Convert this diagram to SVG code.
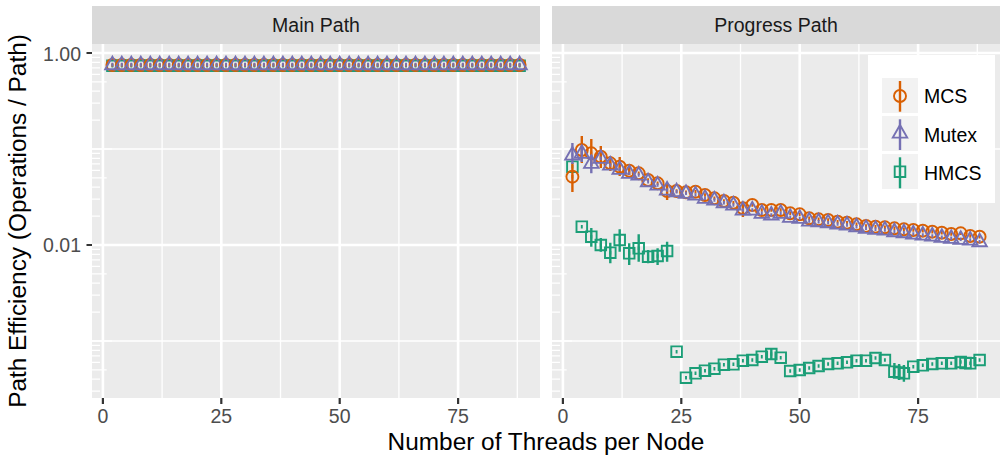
<svg xmlns="http://www.w3.org/2000/svg" xmlns:xlink="http://www.w3.org/1999/xlink" width="1000" height="459" viewBox="0 0 1000 459">
<style>
text{font-family:"Liberation Sans",Arial,sans-serif}
.tick{font-size:19.5px;fill:#4D4D4D}
.strip{font-size:19.5px;fill:#1A1A1A;text-anchor:middle}
.title{font-size:24.4px;fill:#000;text-anchor:middle}
.leg{font-size:19.5px;fill:#000}
.panel{fill:#EBEBEB}
.stripbg{fill:#D9D9D9}
.gmaj{stroke:#FFF;stroke-width:2.6;fill:none}
.gmin{stroke:#FFF;stroke-width:1.3;fill:none}
.lt{stroke:#FFF;stroke-width:1.3;fill:none}
.axt{stroke:#333;stroke-width:2.2;fill:none}
.mcs{stroke:#D95F02;fill:none;stroke-width:1.9}
.mtx{stroke:#7570B3;fill:none;stroke-width:1.9}
.hm{stroke:#1B9E77;fill:none;stroke-width:1.9}
.eb{stroke-width:2.4}
</style>
<defs>
<!-- point shapes: open circle, open triangle, open square, each with a short centre range line -->
<path id="o" d="M6,0A6,6 0 1 1 -6,0A6,6 0 1 1 6,0ZM0,-1.8V1.8"/>
<path id="t" d="M0,-8L7.2,4.6H-7.2ZM0,-1.8V1.8"/>
<path id="s" d="M-5.3,-5.3H5.3V5.3H-5.3ZM0,-1.8V1.8"/>
<!-- three overlapping series at one x in the Main Path panel -->
<g id="trio" fill="none" stroke-width="1.9">
<use href="#s" stroke="#1B9E77" y="0.8"/>
<use href="#o" stroke="#D95F02"/>
<use href="#t" stroke="#7570B3" y="-0.4"/>
</g>
<!-- log-scale ticks along the left edge of a panel -->
<path id="logticks" class="lt" d="M92,53h20M92,57.4h8M92,62.3h8M92,67.9h8M92,74.3h8M92,81.9h14.7M92,91.2h8M92,103.2h8M92,120.1h8
M92,149h20M92,153.4h8M92,158.3h8M92,163.9h8M92,170.3h8M92,177.9h14.7M92,187.2h8M92,199.2h8M92,216.1h8
M92,245h20M92,249.4h8M92,254.3h8M92,259.9h8M92,266.3h8M92,273.9h14.7M92,283.2h8M92,295.2h8M92,312.1h8
M92,341h20M92,345.4h8M92,350.3h8M92,355.9h8M92,362.3h8M92,369.9h14.7M92,379.2h8M92,391.2h8"/>
</defs>

<rect width="1000" height="459" fill="#FFF"/>

<!-- Main Path panel -->
<g id="panel-main">
<rect class="panel" x="92" y="44" width="448" height="354"/>
<path class="gmin" d="M92,149H540M92,341H540M162.1,44V398M280.5,44V398M398.9,44V398M517.3,44V398"/>
<path class="gmaj" d="M92,53H540M92,245H540M102.9,44V398M221.3,44V398M339.7,44V398M458.1,44V398"/>
<use href="#logticks"/>
<rect class="stripbg" x="92" y="6" width="448" height="38"/>
<text class="strip" x="316" y="32.3">Main Path</text>
</g>

<!-- Progress Path panel -->
<g id="panel-progress">
<rect class="panel" x="552" y="44" width="448" height="354"/>
<path class="gmin" d="M552,149H1000M552,341H1000M622.1,44V398M740.5,44V398M858.9,44V398M977.3,44V398"/>
<path class="gmaj" d="M552,53H1000M552,245H1000M562.9,44V398M681.3,44V398M799.7,44V398M918.1,44V398"/>
<use href="#logticks" transform="translate(460,0)"/>
<rect class="stripbg" x="552" y="6" width="448" height="38"/>
<text class="strip" x="776" y="32.3">Progress Path</text>
</g>

<!-- axes -->
<g id="axes">
<path class="axt" d="M86.5,53H92M86.5,245H92M102.9,398V404M221.3,398V404M339.7,398V404M458.1,398V404M562.9,398V404M681.3,398V404M799.7,398V404M918.1,398V404"/>
<text class="tick" x="81" y="61" text-anchor="end">1.00</text>
<text class="tick" x="81" y="252" text-anchor="end">0.01</text>
<g class="tick" text-anchor="middle">
<text x="102.9" y="423.3">0</text><text x="221.3" y="423.3">25</text><text x="339.7" y="423.3">50</text><text x="458.1" y="423.3">75</text>
<text x="562.9" y="423.3">0</text><text x="681.3" y="423.3">25</text><text x="799.7" y="423.3">50</text><text x="918.1" y="423.3">75</text>
</g>
<text class="title" x="546" y="449.5">Number of Threads per Node</text>
<text class="title" transform="translate(26,221) rotate(-90)">Path Efficiency (Operations / Path)</text>
</g>

<!-- Main Path data -->
<g id="data-main">
<use href="#trio" x="112.4" y="65"/><use href="#trio" x="121.8" y="65"/><use href="#trio" x="131.3" y="65"/><use href="#trio" x="140.8" y="65"/>
<use href="#trio" x="150.3" y="65"/><use href="#trio" x="159.7" y="65"/><use href="#trio" x="169.2" y="65"/><use href="#trio" x="178.7" y="65"/>
<use href="#trio" x="188.1" y="65"/><use href="#trio" x="197.6" y="65"/><use href="#trio" x="207.1" y="65"/><use href="#trio" x="216.6" y="65"/>
<use href="#trio" x="226.0" y="65"/><use href="#trio" x="235.5" y="65"/><use href="#trio" x="245.0" y="65"/><use href="#trio" x="254.4" y="65"/>
<use href="#trio" x="263.9" y="65"/><use href="#trio" x="273.4" y="65"/><use href="#trio" x="282.9" y="65"/><use href="#trio" x="292.3" y="65"/>
<use href="#trio" x="301.8" y="65"/><use href="#trio" x="311.3" y="65"/><use href="#trio" x="320.7" y="65"/><use href="#trio" x="330.2" y="65"/>
<use href="#trio" x="339.7" y="65"/><use href="#trio" x="349.2" y="65"/><use href="#trio" x="358.6" y="65"/><use href="#trio" x="368.1" y="65"/>
<use href="#trio" x="377.6" y="65"/><use href="#trio" x="387.0" y="65"/><use href="#trio" x="396.5" y="65"/><use href="#trio" x="406.0" y="65"/>
<use href="#trio" x="415.5" y="65"/><use href="#trio" x="424.9" y="65"/><use href="#trio" x="434.4" y="65"/><use href="#trio" x="443.9" y="65"/>
<use href="#trio" x="453.3" y="65"/><use href="#trio" x="462.8" y="65"/><use href="#trio" x="472.3" y="65"/><use href="#trio" x="481.8" y="65"/>
<use href="#trio" x="491.2" y="65"/><use href="#trio" x="500.7" y="65"/><use href="#trio" x="510.2" y="65"/><use href="#trio" x="519.6" y="65"/>
</g>

<!-- Progress Path data: HMCS -->
<g id="data-hmcs" class="hm">
<path class="eb" d="M591.3,228V246.7M600.8,238V251.7M610.3,242.7V263.3M619.7,229.3V251.7M629.2,243.3V265M638.7,234.3V261.7M648.1,250V263.3M657.6,248.3V265M667.1,241.7V261.7M771.3,349V360M894.4,363V378M899.1,364V380M903.9,365V381.7"/>
<use href="#s" x="572.4" y="166.7"/><use href="#s" x="581.8" y="226.7"/><use href="#s" x="591.3" y="236.7"/><use href="#s" x="600.8" y="245"/>
<use href="#s" x="610.3" y="252.7"/><use href="#s" x="619.7" y="240"/><use href="#s" x="629.2" y="253.3"/><use href="#s" x="638.7" y="248.3"/>
<use href="#s" x="648.1" y="256.7"/><use href="#s" x="657.6" y="256"/><use href="#s" x="667.1" y="251"/>
<use href="#s" x="676.6" y="351.7"/><use href="#s" x="686.0" y="377.7"/><use href="#s" x="695.5" y="373.3"/><use href="#s" x="705.0" y="370.7"/>
<use href="#s" x="714.4" y="368.7"/><use href="#s" x="723.9" y="364.7"/><use href="#s" x="733.4" y="364.3"/><use href="#s" x="742.9" y="360.7"/>
<use href="#s" x="752.3" y="360"/><use href="#s" x="761.8" y="356.7"/><use href="#s" x="771.3" y="354"/><use href="#s" x="780.7" y="357.7"/>
<use href="#s" x="790.2" y="371"/><use href="#s" x="799.7" y="370"/><use href="#s" x="809.2" y="368"/><use href="#s" x="818.6" y="366"/>
<use href="#s" x="828.1" y="364"/><use href="#s" x="837.6" y="363.3"/><use href="#s" x="847.0" y="362.3"/><use href="#s" x="856.5" y="360.7"/>
<use href="#s" x="866.0" y="360.7"/><use href="#s" x="875.5" y="358"/><use href="#s" x="884.9" y="360"/><use href="#s" x="894.4" y="371.7"/>
<use href="#s" x="899.1" y="372.5"/><use href="#s" x="903.9" y="373.3"/><use href="#s" x="913.3" y="366.7"/><use href="#s" x="922.8" y="365.3"/>
<use href="#s" x="932.3" y="364"/><use href="#s" x="941.8" y="363.3"/><use href="#s" x="951.2" y="363.3"/><use href="#s" x="960.7" y="362"/>
<use href="#s" x="965.5" y="363"/><use href="#s" x="970.2" y="363.3"/><use href="#s" x="979.6" y="360"/>
</g>

<!-- Progress Path data: MCS -->
<g id="data-mcs" class="mcs">
<path class="eb" d="M572.4,163V192M581.8,136V163M591.3,139V166M600.8,146V168M610.3,156V171M619.7,157V176M629.2,166V175M667.1,184V200M742.9,203V217"/>
<use href="#o" x="572.4" y="176.7"/><use href="#o" x="581.8" y="150"/><use href="#o" x="591.3" y="153.3"/><use href="#o" x="600.8" y="156.7"/>
<use href="#o" x="610.3" y="163.3"/><use href="#o" x="619.7" y="166.7"/><use href="#o" x="629.2" y="170.7"/><use href="#o" x="638.7" y="173.3"/>
<use href="#o" x="648.1" y="180"/><use href="#o" x="657.6" y="183.3"/><use href="#o" x="667.1" y="191"/><use href="#o" x="676.6" y="191"/>
<use href="#o" x="686.0" y="192.3"/><use href="#o" x="695.5" y="191.7"/><use href="#o" x="705.0" y="195"/><use href="#o" x="714.4" y="198.3"/>
<use href="#o" x="723.9" y="201"/><use href="#o" x="733.4" y="202.7"/><use href="#o" x="742.9" y="208.3"/><use href="#o" x="752.3" y="205"/>
<use href="#o" x="761.8" y="210"/><use href="#o" x="771.3" y="210"/><use href="#o" x="780.7" y="210"/><use href="#o" x="790.2" y="213.3"/>
<use href="#o" x="799.7" y="214.3"/><use href="#o" x="809.2" y="218.3"/><use href="#o" x="818.6" y="219.3"/><use href="#o" x="828.1" y="220"/>
<use href="#o" x="837.6" y="221.7"/><use href="#o" x="847.0" y="222.7"/><use href="#o" x="856.5" y="224.3"/><use href="#o" x="866.0" y="226"/>
<use href="#o" x="875.5" y="226.7"/><use href="#o" x="884.9" y="227.3"/><use href="#o" x="894.4" y="228.3"/><use href="#o" x="903.9" y="229.3"/>
<use href="#o" x="913.3" y="230"/><use href="#o" x="922.8" y="230.7"/><use href="#o" x="932.3" y="231.7"/><use href="#o" x="941.8" y="232.7"/>
<use href="#o" x="951.2" y="234"/><use href="#o" x="960.7" y="233.3"/><use href="#o" x="970.2" y="236"/><use href="#o" x="979.6" y="236.7"/>
</g>

<!-- Progress Path data: Mutex -->
<g id="data-mutex" class="mtx">
<path class="eb" d="M572.4,143V164M581.8,146V162M591.3,155V173.3"/>
<use href="#t" x="572.4" y="155"/><use href="#t" x="581.8" y="153.3"/><use href="#t" x="591.3" y="163.3"/><use href="#t" x="600.8" y="158.3"/>
<use href="#t" x="610.3" y="165"/><use href="#t" x="619.7" y="169.3"/><use href="#t" x="629.2" y="173.3"/><use href="#t" x="638.7" y="175"/>
<use href="#t" x="648.1" y="181.7"/><use href="#t" x="657.6" y="185"/><use href="#t" x="667.1" y="190"/><use href="#t" x="676.6" y="191.7"/>
<use href="#t" x="686.0" y="193.3"/><use href="#t" x="695.5" y="195"/><use href="#t" x="705.0" y="198.3"/><use href="#t" x="714.4" y="200"/>
<use href="#t" x="723.9" y="202.7"/><use href="#t" x="733.4" y="205"/><use href="#t" x="742.9" y="210"/><use href="#t" x="752.3" y="210"/>
<use href="#t" x="761.8" y="213.3"/><use href="#t" x="771.3" y="215"/><use href="#t" x="780.7" y="213.3"/><use href="#t" x="790.2" y="217.3"/>
<use href="#t" x="799.7" y="218.3"/><use href="#t" x="809.2" y="221"/><use href="#t" x="818.6" y="221.7"/><use href="#t" x="828.1" y="222.7"/>
<use href="#t" x="837.6" y="224"/><use href="#t" x="847.0" y="225"/><use href="#t" x="856.5" y="226.7"/><use href="#t" x="866.0" y="228.3"/>
<use href="#t" x="875.5" y="229.3"/><use href="#t" x="884.9" y="230"/><use href="#t" x="894.4" y="231.7"/><use href="#t" x="903.9" y="232.7"/>
<use href="#t" x="913.3" y="234"/><use href="#t" x="922.8" y="235"/><use href="#t" x="932.3" y="236"/><use href="#t" x="941.8" y="237.3"/>
<use href="#t" x="951.2" y="238.3"/><use href="#t" x="960.7" y="239.3"/><use href="#t" x="970.2" y="240"/><use href="#t" x="979.6" y="241.7"/>
</g>

<!-- legend -->
<g id="legend">
<rect x="868" y="55" width="127" height="148" fill="#FFF"/>
<rect x="882" y="78" width="36" height="35" fill="#F2F2F2"/>
<rect x="882" y="116" width="36" height="35" fill="#F2F2F2"/>
<rect x="882" y="154" width="36" height="35" fill="#F2F2F2"/>
<g class="mcs"><path class="eb" d="M900,81V111.7"/><use href="#o" x="900" y="96"/></g>
<g class="mtx"><path class="eb" d="M900,119.3V150"/><use href="#t" x="900" y="133"/></g>
<g class="hm"><path class="eb" d="M900,157.3V188.3"/><use href="#s" x="900" y="171.7"/></g>
<text class="leg" x="924" y="103.3">MCS</text>
<text class="leg" x="924" y="141.5">Mutex</text>
<text class="leg" x="924" y="180">HMCS</text>
</g>
</svg>
